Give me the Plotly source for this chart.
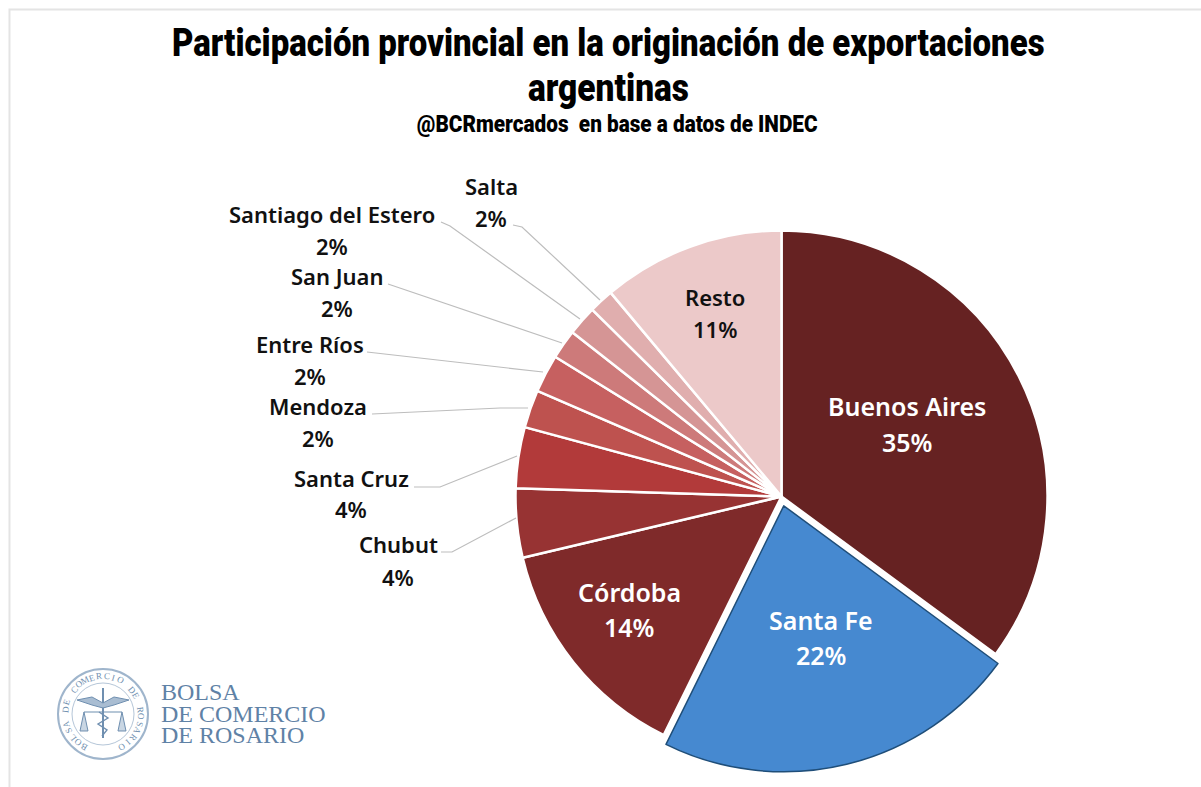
import math
import plotly.graph_objects as go

W, H = 1201, 787

provinces = ["Buenos Aires", "Santa Fe", "Córdoba", "Chubut", "Santa Cruz", "Mendoza",
             "Entre Ríos", "San Juan", "Santiago del Estero", "Salta", "Resto"]
shares = [35.1, 22.2, 14.0, 4.2, 3.7, 2.3, 2.3, 1.8, 1.8, 1.5, 11.1]
slice_colors = ["#662222", "#4689D0", "#7F2A2A", "#973333", "#B23A3A", "#BE524F",
                "#C66060", "#CD7A7A", "#D59595", "#E0AEAE", "#ECC9C9"]
title_lines = ["Participación provincial en la originación de exportaciones", "argentinas"]
subtitle = "@BCRmercados  en base a datos de INDEC"
logo_lines = ["BOLSA", "DE COMERCIO", "DE ROSARIO"]
seal_text = "BOLSA DE COMERCIO DE ROSARIO"

CX, CY, R, PULL = 781.5, 496.5, 266, 0.036


def px(x):
    return x / W


def py(y):
    return 1 - y / H


annotations, shapes = [], []


def text(x, y, s, size, color="#000000", family="Noto Sans", anchor="center", angle=0, weight=None):
    f = dict(size=size, color=color, family=family)
    if weight:
        f["weight"] = weight
    annotations.append(dict(x=px(x), y=py(y), xref="paper", yref="paper", text=s, showarrow=False,
                            xanchor=anchor, yanchor="middle", textangle=angle, font=f))


def path(points, color, width=1.2, fill=None):
    d = "M" + " L".join(f"{px(x):.5f},{py(y):.5f}" for x, y in points)
    shapes.append(dict(type="path", path=d, xref="paper", yref="paper",
                       line=dict(color=color, width=width),
                       fillcolor=fill if fill else "rgba(0,0,0,0)"))


def circle(x, y, r, color, width=1.5):
    shapes.append(dict(type="circle", xref="paper", yref="paper", x0=px(x - r), x1=px(x + r),
                       y0=py(y + r), y1=py(y - r), line=dict(color=color, width=width)))


# frame
path([(9.5, H + 5), (9.5, 9.5), (W + 5, 9.5)], "#e4e4e4", 2)

# title: heavy face, narrowed after drawing to the reference widths
TF = "Roboto"
text(608, 43, title_lines[0], 38, family=TF, weight=900)
text(608, 88, title_lines[1], 38, family=TF, weight=900)
text(617, 125, subtitle, 23, family=TF, weight=900)
narrow = {title_lines[0]: 873, title_lines[1]: 161, subtitle: 401}

# labels
pct = {p: f"{round(s + 1e-9)}%" for p, s in zip(provinces, shares)}
inside = {"Buenos Aires": (907, 406, 442, "#ffffff", 25), "Santa Fe": (821, 620, 655, "#ffffff", 25),
          "Córdoba": (629, 592, 627, "#ffffff", 25), "Resto": (715, 297, 329, "#111111", 22)}
for p, (x, y1, y2, c, z) in inside.items():
    text(x, y1, p, z, c, weight=600)
    text(x, y2, pct[p], z, c, weight=600)

outside = {"Salta": (491, 186, 491, 218), "Santiago del Estero": (332, 214, 332, 246),
           "San Juan": (337, 276, 337, 308), "Entre Ríos": (310, 344, 310, 376),
           "Mendoza": (318, 406, 318, 438), "Santa Cruz": (351, 478, 351, 509),
           "Chubut": (398, 544, 398, 577)}
for p, (x1, y1, x2, y2) in outside.items():
    text(x1, y1, p, 22, "#111111", weight=600)
    text(x2, y2, pct[p], 22, "#111111", weight=600)

# leader lines
LC = "#bdbdbd"
for pts in [[(513, 225), (522, 227), (600, 300)],
            [(441, 222), (450, 226), (580, 319)],
            [(388, 284), (562, 343)],
            [(367, 352), (543, 372)],
            [(372, 414), (500, 408), (528, 408)],
            [(414, 487), (440, 487), (517, 456)],
            [(441, 552), (452, 552), (516, 518)]]:
    path(pts, LC, 1.2)

# logo
LOGO = "#6f8fb0"
LOGO_D = "#5f82a6"
SX, SY = 103, 714
circle(SX, SY, 45, "#9fb5cc", 2)
circle(SX, SY, 31, "#b5c6d8", 1)
chars = list(seal_text)
for i, ch in enumerate(chars):
    a = math.radians(-150 + 300 * i / (len(chars) - 1))
    text(SX + 38 * math.sin(a), SY - 38 * math.cos(a), ch, 9, LOGO, "Liberation Serif",
         angle=math.degrees(a))
# caduceus and scales
path([(103, 688), (103, 738)], LOGO, 2)
path([(77, 700), (92, 697), (103, 703), (114, 697), (129, 700), (114, 705), (103, 708), (92, 705), (77, 700)],
     LOGO, 1, "#a9bdd2")
path([(84, 712), (122, 712)], LOGO, 1.2)
path([(84, 712), (80, 731), (88, 731), (84, 712)], LOGO, 1, "#c9d6e3")
path([(122, 712), (118, 731), (126, 731), (122, 712)], LOGO, 1, "#c9d6e3")
path([(99, 712), (108, 718), (98, 724), (107, 730), (102, 736)], LOGO, 1.4)
for s, y in zip(logo_lines, (692, 714, 735)):
    text(159, y, s, 24, LOGO_D, "Liberation Serif", anchor="left")

half_w = R * (1 + PULL)
pie = go.Pie(
    labels=provinces, values=shares, sort=False, direction="clockwise", rotation=0,
    pull=[PULL if p == "Santa Fe" else 0 for p in provinces],
    marker=dict(colors=slice_colors,
                line=dict(color=["#1F4E79" if p == "Santa Fe" else "#ffffff" for p in provinces],
                          width=[1.5 if p == "Santa Fe" else 2.5 for p in provinces])),
    textinfo="none", hoverinfo="label+percent", showlegend=False,
    domain=dict(x=[px(CX - half_w), px(CX + half_w)], y=[py(CY + half_w), py(CY - half_w)]),
)
fig = go.Figure(pie)
fig.update_layout(width=W, height=H, margin=dict(l=0, r=0, t=0, b=0), paper_bgcolor="#ffffff",
                  annotations=annotations, shapes=shapes)

js_targets = ",".join(f"{k!r}:{v}" for k, v in narrow.items())
post = """
document.body.style.margin='0';document.body.style.overflow='hidden';
var targets={%s};
function narrowTitles(){
  document.querySelectorAll('.annotation-text').forEach(function(t){
    var w=targets[t.textContent];
    if(!w)return;
    t.style.transform='none';
    var s=w/t.getBBox().width;
    t.style.transformBox='fill-box';
    t.style.transformOrigin='center';
    t.style.transform='scaleX('+s+')';
  });
}
narrowTitles();setTimeout(narrowTitles,200);
""" % js_targets
fig.write_html("out.html", config={"displayModeBar": False}, post_script=post)
